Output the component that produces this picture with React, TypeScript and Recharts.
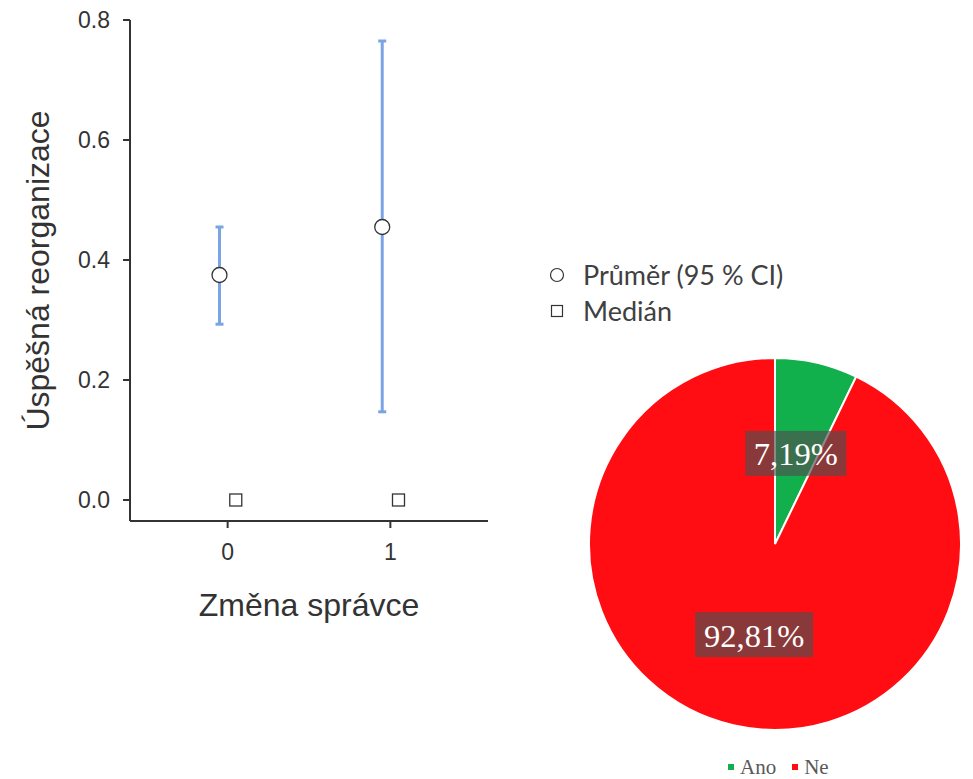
import React from "react";
import {
  ComposedChart, Scatter, ErrorBar, XAxis, YAxis,
  PieChart, Pie, Cell, Legend,
} from "recharts";

// descriptives plot
const groups = [0, 1];
const means = [0.375, 0.455];
const ciLow = [0.293, 0.147];
const ciHigh = [0.455, 0.765];
const medians = [0, 0];
const yTicks = [0, 0.2, 0.4, 0.6, 0.8];

// pie
const pieNames = ["Ano", "Ne"];
const pieValues = [7.19, 92.81];
const pieColors = ["#12b04c", "#ff0d12"];

const DODGE = 0.05;
const AXIS = "#333333";
const SANS = "'Liberation Sans', Arial, sans-serif";
const SERIF = "'Liberation Serif', 'Times New Roman', serif";

const meanData = groups.map((g, i) => ({
  x: g - DODGE,
  y: means[i],
  err: [means[i] - ciLow[i], ciHigh[i] - means[i]],
}));
const medianData = groups.map((g, i) => ({ x: g + DODGE, y: medians[i] }));
const pieData = pieNames.map((name, i) => ({ name, value: pieValues[i] }));

const RAD = Math.PI / 180;

function PieLabel(props: any) {
  const { cx, cy, midAngle, outerRadius, value } = props;
  const r = outerRadius * 0.5;
  const x = cx + r * Math.cos(-midAngle * RAD);
  const y = cy + r * Math.sin(-midAngle * RAD);
  const text = value.toFixed(2).replace(".", ",") + "%";
  const w = text.length * 17 + 16;
  const h = 45;
  return (
    <g>
      <rect x={x - w / 2} y={y - h / 2} width={w} height={h} fill="rgba(80,80,80,0.665)" />
      <text x={x} y={y + 1} fill="#fff" textAnchor="middle" dominantBaseline="central"
        fontFamily={SERIF} fontSize={32.5}>
        {text}
      </text>
    </g>
  );
}

function PieLegend(props: any) {
  const items = props.payload || [];
  return (
    <div style={{ display: "flex", alignItems: "center", fontFamily: SERIF, fontSize: 21, lineHeight: "20px", color: "#595959" }}>
      {items.map((it: any) => (
        <span key={it.value} style={{ display: "inline-flex", alignItems: "center", marginRight: 16 }}>
          <span style={{ display: "inline-block", width: 6, height: 6, background: it.color, marginRight: 6 }} />
          {it.value}
        </span>
      ))}
    </div>
  );
}

export default function App() {
  return (
    <div style={{ position: "absolute", left: 0, top: 0, width: 973, height: 779, background: "#fff" }}>
      <div style={{ position: "absolute", left: 0, top: 0 }}>
        <ComposedChart width={500} height={650} margin={{ top: 20, right: 12, left: 0, bottom: 0 }}>
          <XAxis
            type="number"
            dataKey="x"
            domain={[-0.6, 1.6]}
            ticks={groups}
            height={129}
            stroke={AXIS}
            strokeWidth={2}
            tickSize={7}
            tickMargin={16}
            tick={{ fill: AXIS, fontSize: 23, fontFamily: SANS }}
            label={{ value: "Změna správce", position: "insideBottom", offset: 34, fill: AXIS, fontSize: 32, fontFamily: SANS }}
          />
          <YAxis
            type="number"
            dataKey="y"
            domain={[-0.035, 0.8]}
            ticks={yTicks}
            tickFormatter={(v: number) => v.toFixed(1)}
            width={130}
            stroke={AXIS}
            strokeWidth={2}
            tickSize={7}
            tickMargin={13}
            tick={{ fill: AXIS, fontSize: 23, fontFamily: SANS }}
            label={{ value: "Úspěšná reorganizace", angle: -90, position: "insideLeft", offset: 38, fill: AXIS, fontSize: 32, fontFamily: SANS, style: { textAnchor: "middle" } }}
          />
          <Scatter
            data={meanData}
            isAnimationActive={false}
            shape={(p: any) => <circle cx={p.cx} cy={p.cy} r={7.5} fill="#fff" stroke={AXIS} strokeWidth={1.3} />}
          >
            <ErrorBar dataKey="err" direction="y" width={4} stroke="#7ba4e4" strokeWidth={3} />
          </Scatter>
          <Scatter
            data={medianData}
            isAnimationActive={false}
            shape={(p: any) => <rect x={p.cx - 6} y={p.cy - 6} width={12} height={12} fill="#fff" stroke={AXIS} strokeWidth={1.3} />}
          />
        </ComposedChart>
      </div>

      <div style={{ position: "absolute", left: 548, top: 257, fontFamily: "Lato, 'Open Sans', sans-serif", fontSize: 27, color: "#404040", lineHeight: "36px" }}>
        <div style={{ display: "flex", alignItems: "center" }}>
          <svg width={20} height={20} style={{ marginRight: 15 }}>
            <circle cx={9} cy={10} r={6.5} fill="#fff" stroke={AXIS} strokeWidth={1.2} />
          </svg>
          Průměr (95 % CI)
        </div>
        <div style={{ display: "flex", alignItems: "center" }}>
          <svg width={20} height={20} style={{ marginRight: 15 }}>
            <rect x={3.5} y={4.5} width={11} height={11} fill="#fff" stroke={AXIS} strokeWidth={1.2} />
          </svg>
          Medián
        </div>
      </div>

      <div style={{ position: "absolute", left: 560, top: 340 }}>
        <PieChart width={413} height={439} margin={{ top: 0, right: 0, bottom: 0, left: 0 }}>
          <Pie
            data={pieData}
            dataKey="value"
            nameKey="name"
            cx={215}
            cy={204}
            outerRadius={186}
            startAngle={90}
            endAngle={-270}
            stroke="#fff"
            strokeWidth={2}
            labelLine={false}
            label={PieLabel}
            isAnimationActive={false}
          >
            {pieData.map((d, i) => <Cell key={d.name} fill={pieColors[i]} />)}
          </Pie>
          <Legend
            content={PieLegend}
            wrapperStyle={{ left: 168, top: 417, width: 200, height: 20 }}
          />
        </PieChart>
      </div>
    </div>
  );
}
